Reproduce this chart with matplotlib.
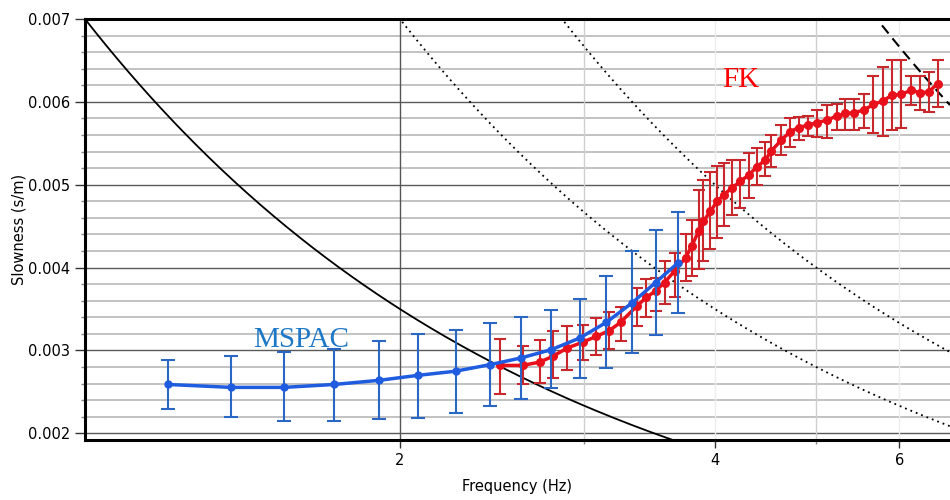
import numpy as np
import matplotlib
matplotlib.use('Agg')
import matplotlib.pyplot as plt
from matplotlib.ticker import FixedLocator, NullFormatter

# MSPAC dispersion points (frequency Hz, slowness s/m, error bar limits)
mspac_freq = [1.20, 1.38, 1.55, 1.73, 1.91, 2.08, 2.26, 2.44, 2.61, 2.79,
              2.97, 3.15, 3.33, 3.51, 3.69]
mspac_slow = [0.00259, 0.002555, 0.002555, 0.00259, 0.00264, 0.00270, 0.00275,
              0.00283, 0.00291, 0.00301, 0.00315, 0.00334, 0.00357, 0.00382, 0.00406]
mspac_low = [0.00229, 0.00220, 0.00215, 0.00215, 0.00217, 0.00219, 0.00225,
             0.00233, 0.00242, 0.00255, 0.00267, 0.00279, 0.00297, 0.00319, 0.00345]
mspac_high = [0.00289, 0.00293, 0.00298, 0.00302, 0.00311, 0.00320, 0.00325,
              0.00333, 0.00340, 0.00349, 0.00362, 0.00390, 0.00420, 0.00446, 0.00467]

# FK dispersion points
fk_freq = [2.49, 2.62, 2.72, 2.80, 2.89, 2.99, 3.08, 3.17, 3.25, 3.37,
           3.44, 3.51, 3.58, 3.66, 3.75, 3.80, 3.86, 3.90, 3.96, 4.02,
           4.08, 4.15, 4.23, 4.31, 4.39, 4.47, 4.53, 4.63, 4.72, 4.81,
           4.91, 5.01, 5.12, 5.23, 5.33, 5.43, 5.55, 5.67, 5.79, 5.90,
           6.02, 6.16, 6.28, 6.40, 6.53]
fk_slow = [0.00282, 0.00282, 0.00286, 0.00293, 0.00303, 0.00310, 0.00317, 0.00324, 0.00334, 0.00354,
           0.00364, 0.00372, 0.00382, 0.00396, 0.00412, 0.00426, 0.00444, 0.00456, 0.00468, 0.00480,
           0.00488, 0.00496, 0.00504, 0.00512, 0.00522, 0.00530, 0.00541, 0.00554, 0.00564, 0.00569,
           0.00572, 0.00575, 0.00578, 0.00583, 0.00586, 0.00587, 0.00590, 0.00597, 0.00601, 0.00608,
           0.00609, 0.00614, 0.00611, 0.00612, 0.00622]
fk_low = [0.00247, 0.00259, 0.00261, 0.00267, 0.00277, 0.00289, 0.00295, 0.00302, 0.00312, 0.00329,
          0.00341, 0.00348, 0.00356, 0.00364, 0.00384, 0.00390, 0.00398, 0.00408, 0.00422, 0.00436,
          0.00450, 0.00464, 0.00472, 0.00484, 0.00500, 0.00510, 0.00522, 0.00536, 0.00545, 0.00554,
          0.00559, 0.00558, 0.00557, 0.00566, 0.00566, 0.00566, 0.00569, 0.00562, 0.00559, 0.00566,
          0.00568, 0.00596, 0.00590, 0.00588, 0.00594]
fk_high = [0.00314, 0.00306, 0.00313, 0.00323, 0.00329, 0.00331, 0.00339, 0.00347, 0.00353, 0.00376,
           0.00386, 0.00388, 0.00408, 0.00418, 0.00440, 0.00458, 0.00494, 0.00506, 0.00515, 0.00523,
           0.00526, 0.00530, 0.00530, 0.00538, 0.00544, 0.00552, 0.00560, 0.00572, 0.00580, 0.00582,
           0.00583, 0.00590, 0.00596, 0.00598, 0.00604, 0.00604, 0.00610, 0.00631, 0.00642, 0.00650,
           0.00650, 0.00631, 0.00631, 0.00636, 0.00650]

# array resolution limits: slowness = limit / frequency
limit_solid = 0.0070
limit_dotted = [0.014, 0.020]
limit_dashed = 0.040

x_ticks = [2, 4, 6]
x_minor = [3, 5]
y_ticks = [0.002, 0.003, 0.004, 0.005, 0.006, 0.007]

FMIN, FMAX = 1.0, 6.71
SMIN, SMAX = 0.00192, 0.007

fig = plt.figure(figsize=(9.5, 5), dpi=100)
ax = fig.add_axes([85 / 950, 60 / 500, 865 / 950, 421 / 500])
ax.set_xscale('log')
ax.set_xlim(FMIN, FMAX)
ax.set_ylim(SMIN, SMAX)

# grid
for s in np.arange(0.0020, 0.00701, 0.0002):
    major = abs(round(s * 1000) - s * 1000) < 1e-6
    ax.axhline(s, color='#5a5a5a' if major else '#bdbdbd', lw=1.0 if major else 1.3, zorder=0)
ax.axvline(2, color='#555555', lw=1.0, zorder=0)
for f in x_minor:
    ax.axvline(f, color='#cfcfcf', lw=1.0, zorder=0)
for f in [4, 6]:
    ax.axvline(f, color='#ececec', lw=1.0, zorder=0)

# resolution limit curves
fgrid = np.geomspace(FMIN, FMAX, 400)
ax.plot(fgrid, limit_solid / fgrid, color='black', lw=1.3, zorder=1)
for k in limit_dotted:
    ax.plot(fgrid, k / fgrid, color='black', lw=1.3, ls=(0, (1, 2.2)), zorder=1)
ax.plot(fgrid, limit_dashed / fgrid, color='black', lw=1.5, ls=(0, (5, 3)), zorder=1)

# FK curve
fk_s = np.array(fk_slow)
ax.errorbar(fk_freq, fk_s, yerr=[fk_s - np.array(fk_low), np.array(fk_high) - fk_s],
            fmt='o-', color='#e8101a', ecolor='#c8282c', ms=5.5, lw=2.5,
            elinewidth=1.5, capsize=4.5, capthick=1.5, zorder=3)

# MSPAC curve
ms_s = np.array(mspac_slow)
ax.errorbar(mspac_freq, ms_s, yerr=[ms_s - np.array(mspac_low), np.array(mspac_high) - ms_s],
            fmt='o-', color='#1f5ce0', ecolor='#2a66c4', ms=5, lw=2.5,
            elinewidth=1.5, capsize=5, capthick=1.5, zorder=4)

ax.text(1.61, 0.00313, 'MSPAC', color='#1e78c8', fontsize=21,
        family='Liberation Serif', ha='center', va='center')
ax.text(4.23, 0.00626, 'FK', color='#ff0000', fontsize=21,
        family='Liberation Serif', ha='center', va='center')

# axes styling
for side in ['top', 'left', 'bottom']:
    ax.spines[side].set_linewidth(2.2)
ax.spines['right'].set_visible(False)

ax.xaxis.set_major_locator(FixedLocator(x_ticks))
ax.xaxis.set_minor_locator(FixedLocator(x_minor))
ax.xaxis.set_minor_formatter(NullFormatter())
ax.set_xticklabels([str(t) for t in x_ticks])
ax.set_yticks(y_ticks)
ax.set_yticklabels([f'{t:.3f}' for t in y_ticks])
ax.yaxis.set_minor_locator(FixedLocator(np.arange(0.0020, 0.00701, 0.0002)))

ax.tick_params(axis='both', which='major', labelsize=10.5, length=6, width=1, color='#333333')
ax.tick_params(axis='y', which='major', length=7)
ax.tick_params(axis='both', which='minor', length=3, width=1, color='#888888')

ax.set_xlabel('Frequency (Hz)', fontsize=10.5, labelpad=8)
ax.set_ylabel('Slowness (s/m)', fontsize=10.5, labelpad=1)

fig.savefig('out.png', dpi=100)
